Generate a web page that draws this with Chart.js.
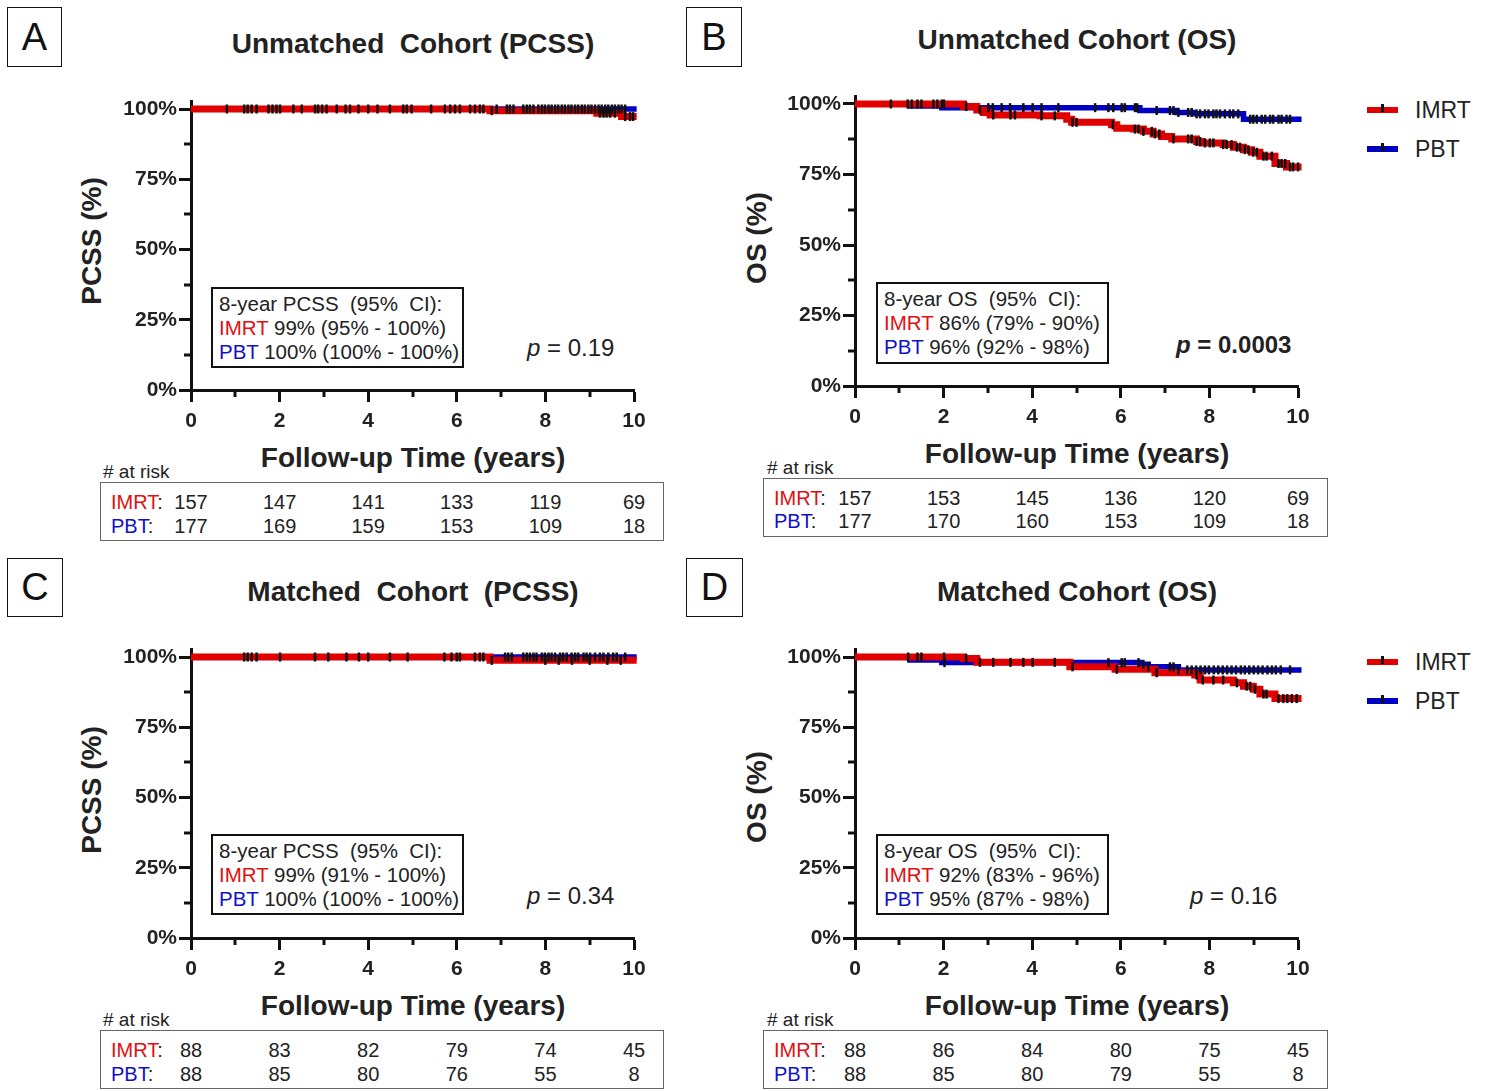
<!DOCTYPE html>
<html>
<head>
<meta charset="utf-8">
<script src="https://cdn.jsdelivr.net/npm/chart.js@4.4.1/dist/chart.umd.min.js"></script>
<style>
  body { margin: 0; background: #fff; }
  #page { position: relative; width: 1487px; height: 1091px; overflow: hidden;
          font-family: "Liberation Sans", Arial, Helvetica, sans-serif; color: #222; }
  .abs { position: absolute; white-space: pre; line-height: 1; }
  .letter { position: absolute; border: 1.5px solid #111; box-sizing: border-box; font-size: 38px;
            display: flex; align-items: center; justify-content: center; color: #111; }
  .ci { position: absolute; border: 2.5px solid #111; box-sizing: border-box; font-size: 20.5px;
        line-height: 24px; padding: 3px 0 0 6px; white-space: pre; }
  .risk { position: absolute; border: 1.5px solid #666; box-sizing: border-box; }
  canvas { position: absolute; }
</style>
</head>
<body>
<div id="page"></div>
<script>
// shared axis values
const xTicks = [0, 2, 4, 6, 8, 10];
const xMinor = [1, 3, 5, 7, 9];
const yTicks = [0, 25, 50, 75, 100];
const yMinor = [12.5, 37.5, 62.5, 87.5];
const riskTimes = [0, 2, 4, 6, 8, 10];

// A - unmatched PCSS
const imrtTimesA = [0, 6.75, 9.16, 9.72, 10.06];
const imrtSurvA = [100, 99.4, 98.5, 97.3, 97.3];
const pbtTimesA = [0, 10.06];
const pbtSurvA = [100, 100];
const imrtCensorA = [0.81, 1.20, 1.28, 1.37, 1.48, 1.75, 1.84, 1.93, 2.01, 2.31, 2.50, 2.80, 2.87, 2.96, 3.06,
  3.29, 3.49, 3.59, 3.78, 4.00, 4.21, 4.49, 4.79, 4.87, 4.98, 5.42, 5.73, 5.85, 5.96, 6.07, 6.30, 6.41, 6.52,
  6.60, 6.79, 9.23, 9.31, 9.38, 9.46, 9.57, 9.80, 9.91, 9.98];
const pbtCensorA = [6.90, 7.13, 7.20, 7.28, 7.50, 7.58, 7.65, 7.73, 7.84, 7.92, 7.99, 8.07, 8.14, 8.22, 8.29,
  8.37, 8.44, 8.52, 8.59, 8.67, 8.74, 8.82, 8.89, 8.97, 9.04, 9.12, 9.20, 9.27, 9.35, 9.42, 9.50, 9.57, 9.65,
  9.72, 9.80];
const imrtRiskA = [157, 147, 141, 133, 119, 69];
const pbtRiskA = [177, 169, 159, 153, 109, 18];

// B - unmatched OS
const imrtTimesB = [0, 2.45, 2.75, 2.9, 3.05, 4.18, 4.78, 4.89, 5.79, 5.91, 6.28, 6.51, 6.73, 6.92, 7.15,
  7.71, 7.83, 8.31, 8.54, 8.77, 8.95, 9.14, 9.48, 9.74, 10.08];
const imrtSurvB = [100, 99.1, 97.9, 97.0, 96.1, 95.8, 94.6, 93.5, 92.6, 91.4, 91.1, 90.3, 89.4, 88.5, 87.6,
  86.7, 86.2, 85.6, 84.7, 83.8, 82.9, 81.5, 78.9, 77.7, 77.7];
const pbtTimesB = [0, 1.24, 1.96, 6.43, 7.26, 7.64, 8.77, 10.08];
const pbtSurvB = [100, 99.3, 98.7, 97.7, 97.0, 96.5, 94.6, 94.6];
const imrtCensorB = [0.81, 1.19, 1.28, 1.41, 1.50, 1.77, 1.86, 1.96, 2.01, 2.51, 2.82, 3.12, 3.51, 3.61, 4.21,
  4.51, 4.91, 5.00, 5.82, 6.32, 6.40, 6.51, 6.70, 6.77, 6.87, 7.19, 7.52, 7.60, 7.71, 7.79, 7.90, 8.01, 8.09,
  8.31, 8.39, 8.50, 8.62, 8.69, 8.80, 8.88, 8.99, 9.07, 9.22, 9.29, 9.41, 9.56, 9.63, 9.71, 9.82, 9.89, 10.0];
const pbtCensorB = [3.01, 3.11, 3.31, 3.50, 3.80, 4.01, 4.21, 4.59, 5.42, 5.72, 5.83, 6.02, 6.09, 6.32, 6.37,
  6.81, 7.11, 7.19, 7.30, 7.52, 7.60, 7.71, 7.79, 7.90, 7.98, 8.09, 8.16, 8.24, 8.35, 8.46, 8.54, 8.65, 8.92,
  8.99, 9.07, 9.18, 9.26, 9.37, 9.44, 9.56, 9.63, 9.74, 9.82];
const imrtRiskB = [157, 153, 145, 136, 120, 69];
const pbtRiskB = [177, 170, 160, 153, 109, 18];

// C - matched PCSS
const imrtTimesC = [0, 6.75, 10.06];
const imrtSurvC = [100, 98.8, 98.8];
const pbtTimesC = [0, 10.06];
const pbtSurvC = [100, 100];
const imrtCensorC = [1.20, 1.28, 1.37, 1.48, 2.01, 2.80, 3.10, 3.51, 3.79, 4.00, 4.49, 4.89, 5.72, 5.88, 6.00,
  6.07, 6.41, 6.52, 6.60, 6.79, 8.0, 8.3, 8.6, 9.0, 9.4, 9.7];
const pbtCensorC = [7.09, 7.16, 7.24, 7.50, 7.58, 7.65, 7.73, 7.80, 7.92, 7.99, 8.07, 8.14, 8.22, 8.33, 8.40,
  8.48, 8.59, 8.67, 8.74, 8.86, 8.93, 9.01, 9.12, 9.23, 9.31, 9.42, 9.53, 9.61, 9.80];
const imrtRiskC = [88, 83, 82, 79, 74, 45];
const pbtRiskC = [88, 85, 80, 76, 55, 8];

// D - matched OS
const imrtTimesD = [0, 2.45, 2.75, 4.85, 5.87, 6.77, 7.67, 7.79, 8.54, 8.77, 8.99, 9.14, 9.48, 10.08];
const imrtSurvD = [100, 99.5, 98.1, 96.5, 95.6, 94.4, 93.6, 91.8, 90.8, 89.6, 88.5, 86.8, 85.2, 85.2];
const pbtTimesD = [0, 1.24, 1.96, 6.43, 6.62, 7.3, 10.08];
const pbtSurvD = [100, 98.9, 98.0, 97.4, 96.5, 95.4, 95.4];
const imrtCensorD = [1.20, 1.41, 1.50, 2.01, 2.51, 2.82, 3.12, 3.51, 3.80, 4.01, 4.51, 4.91, 5.91, 6.81, 7.71,
  7.85, 8.09, 8.31, 8.62, 8.84, 8.92, 9.03, 9.22, 9.29, 9.56, 9.67, 9.76, 9.86, 9.97];
const pbtCensorD = [2.02, 5.72, 6.02, 6.09, 6.40, 6.51, 6.62, 7.11, 7.19, 7.30, 7.50, 7.60, 7.70, 7.80, 7.90,
  7.99, 8.10, 8.20, 8.30, 8.40, 8.50, 8.60, 8.71, 8.80, 8.90, 9.0, 9.10, 9.20, 9.31, 9.41, 9.50, 9.61, 9.82];
const imrtRiskD = [88, 86, 84, 80, 75, 45];
const pbtRiskD = [88, 85, 80, 79, 55, 8];

const RED = '#e10000';
const BLUE = '#0000c4';
const TXT_RED = '#e01010';
const TXT_BLUE = '#1010c8';
const FONT = '"Liberation Sans", Arial, Helvetica, sans-serif';
const Y_MAX = 102.5;

const panels = [
  {
    letter: 'A', box: [7, 7, 55, 60],
    title: 'Unmatched  Cohort (PCSS)', titleXY: [413, 44],
    yTitle: 'PCSS (%)', yTitleXY: [92, 241], xTitleXY: [413, 458],
    left: 191, right: 634, y100: 109, y0: 390,
    imrt: [imrtTimesA, imrtSurvA, imrtCensorA], pbt: [pbtTimesA, pbtSurvA, pbtCensorA],
    ci: ['8-year PCSS  (95%  CI):', ' 99% (95% - 100%)', ' 100% (100% - 100%)'], ciBox: [211, 287, 253, 81],
    p: '0.19', pBold: false, pXY: [527, 348],
    riskLabelXY: [103, 471], riskBox: [100, 482, 564, 59], riskRows: [502, 526],
    risk: [imrtRiskA, pbtRiskA]
  },
  {
    letter: 'B', box: [686, 7, 56, 60],
    title: 'Unmatched Cohort (OS)', titleXY: [1077, 40],
    yTitle: 'OS (%)', yTitleXY: [757, 238], xTitleXY: [1077, 454],
    left: 855, right: 1298, y100: 104, y0: 386,
    imrt: [imrtTimesB, imrtSurvB, imrtCensorB], pbt: [pbtTimesB, pbtSurvB, pbtCensorB],
    ci: ['8-year OS  (95%  CI):', ' 86% (79% - 90%)', ' 96% (92% - 98%)'], ciBox: [876, 282, 233, 82],
    p: '0.0003', pBold: true, pXY: [1176, 345],
    legend: [110, 149],
    riskLabelXY: [767, 467], riskBox: [763, 478, 565, 59], riskRows: [498, 521],
    risk: [imrtRiskB, pbtRiskB]
  },
  {
    letter: 'C', box: [7, 558, 56, 59],
    title: 'Matched  Cohort  (PCSS)', titleXY: [413, 592],
    yTitle: 'PCSS (%)', yTitleXY: [92, 790], xTitleXY: [413, 1006],
    left: 191, right: 634, y100: 657, y0: 938,
    imrt: [imrtTimesC, imrtSurvC, imrtCensorC], pbt: [pbtTimesC, pbtSurvC, pbtCensorC],
    ci: ['8-year PCSS  (95%  CI):', ' 99% (91% - 100%)', ' 100% (100% - 100%)'], ciBox: [211, 834, 253, 81],
    p: '0.34', pBold: false, pXY: [527, 896],
    riskLabelXY: [103, 1019], riskBox: [100, 1030, 564, 59], riskRows: [1050, 1074],
    risk: [imrtRiskC, pbtRiskC]
  },
  {
    letter: 'D', box: [686, 558, 57, 59],
    title: 'Matched Cohort (OS)', titleXY: [1077, 592],
    yTitle: 'OS (%)', yTitleXY: [757, 797], xTitleXY: [1077, 1006],
    left: 855, right: 1298, y100: 657, y0: 938,
    imrt: [imrtTimesD, imrtSurvD, imrtCensorD], pbt: [pbtTimesD, pbtSurvD, pbtCensorD],
    ci: ['8-year OS  (95%  CI):', ' 92% (83% - 96%)', ' 95% (87% - 98%)'], ciBox: [876, 834, 233, 81],
    p: '0.16', pBold: false, pXY: [1190, 896],
    legend: [662, 701],
    riskLabelXY: [767, 1019], riskBox: [763, 1030, 565, 59], riskRows: [1050, 1074],
    risk: [imrtRiskD, pbtRiskD]
  }
];

const page = document.getElementById('page');

function put(html, x, y, css, anchor) {
  const el = document.createElement('div');
  el.className = 'abs';
  el.innerHTML = html;
  el.style.left = x + 'px';
  el.style.top = y + 'px';
  el.style.cssText += css || '';
  if (anchor === 'c') el.style.transform = 'translate(-50%, -50%)';
  else if (anchor === 'l') el.style.transform = 'translate(0, -50%)';
  page.appendChild(el);
  return el;
}

function survAt(times, surv, t) {
  let s = surv[0];
  for (let i = 0; i < times.length; i++) {
    if (times[i] <= t) s = surv[i];
  }
  return s;
}

// shorter ticks at odd years / 12.5% steps
const minorTicks = {
  id: 'minorTicks',
  afterDraw(chart) {
    const { ctx, chartArea, scales } = chart;
    ctx.save();
    ctx.strokeStyle = '#111';
    ctx.lineWidth = 3;
    yMinor.forEach(v => {
      const py = Math.round(scales.y.getPixelForValue(v));
      ctx.beginPath();
      ctx.moveTo(chartArea.left - 7, py);
      ctx.lineTo(chartArea.left, py);
      ctx.stroke();
    });
    xMinor.forEach(v => {
      const px = Math.round(scales.x.getPixelForValue(v));
      ctx.beginPath();
      ctx.moveTo(px, chartArea.bottom);
      ctx.lineTo(px, chartArea.bottom + 7);
      ctx.stroke();
    });
    ctx.restore();
  }
};

function stepData(times, surv) {
  return times.map((t, i) => ({ x: t, y: surv[i] }));
}

function censorData(times, surv, cens) {
  return cens.map(t => ({ x: t, y: survAt(times, surv, t) }));
}

function legendItem(color, label, y) {
  const sw = document.createElement('div');
  sw.style.cssText = `position:absolute;left:1367px;top:${y - 3}px;width:31px;height:6px;background:${color};`;
  page.appendChild(sw);
  const tk = document.createElement('div');
  tk.style.cssText = `position:absolute;left:1381px;top:${y - 6}px;width:2.5px;height:8px;background:#111;`;
  page.appendChild(tk);
  put(label, 1415, y, 'font-size:23px;color:#222;', 'l');
}

function buildPanel(p) {
  // letter box
  const lb = document.createElement('div');
  lb.className = 'letter';
  lb.textContent = p.letter;
  lb.style.cssText += `left:${p.box[0]}px;top:${p.box[1]}px;width:${p.box[2]}px;height:${p.box[3]}px;`;
  page.appendChild(lb);

  put(p.title, p.titleXY[0], p.titleXY[1], 'font-weight:bold;font-size:28px;', 'c');
  const yt = put(p.yTitle, p.yTitleXY[0], p.yTitleXY[1], 'font-weight:bold;font-size:28px;');
  yt.style.transform = 'translate(-50%, -50%) rotate(-90deg)';
  put('Follow-up Time (years)', p.xTitleXY[0], p.xTitleXY[1], 'font-weight:bold;font-size:28px;', 'c');

  // CI box
  const ci = document.createElement('div');
  ci.className = 'ci';
  ci.style.left = p.ciBox[0] + 'px';
  ci.style.top = p.ciBox[1] + 'px';
  ci.style.width = p.ciBox[2] + 'px';
  ci.style.height = p.ciBox[3] + 'px';
  ci.innerHTML = p.ci[0] + '\n<span style="color:' + TXT_RED + '">IMRT</span>' + p.ci[1] +
    '\n<span style="color:' + TXT_BLUE + '">PBT</span>' + p.ci[2];
  page.appendChild(ci);

  put('<i>p</i> = ' + p.p, p.pXY[0], p.pXY[1],
    'font-size:24px;' + (p.pBold ? 'font-weight:bold;' : ''), 'l');

  if (p.legend) {
    legendItem(RED, 'IMRT', p.legend[0]);
    legendItem(BLUE, 'PBT', p.legend[1]);
  }

  // chart canvas
  const cLeft = p.left - 96;
  const cTop = p.y100 - 36;
  const cW = 570;
  const cH = p.y0 + 60 - cTop;
  const areaTop = p.y0 - (p.y0 - p.y100) * Y_MAX / 100;
  const cv = document.createElement('canvas');
  cv.width = cW;
  cv.height = cH;
  cv.style.left = cLeft + 'px';
  cv.style.top = cTop + 'px';
  page.appendChild(cv);

  const [it, is, ic] = p.imrt;
  const [pt, ps, pc] = p.pbt;

  const tickFont = { family: FONT, size: 21, weight: 'bold' };
  const chart = new Chart(cv, {
    type: 'line',
    data: {
      datasets: [
        { data: censorData(it, is, ic), showLine: false, pointStyle: 'line', rotation: 90, pointRadius: 4.5,
          pointBorderWidth: 2.5, pointBorderColor: '#111', borderColor: '#111', order: 0, clip: false },
        { data: censorData(pt, ps, pc), showLine: false, pointStyle: 'line', rotation: 90, pointRadius: 4.5,
          pointBorderWidth: 2.5, pointBorderColor: '#111', borderColor: '#111', order: 0, clip: false },
        // 'before': hold the previous value until the event time, then drop
        { label: 'IMRT', data: stepData(it, is), stepped: 'before', borderColor: RED, borderWidth: 7,
          pointRadius: 0, borderCapStyle: 'butt', borderJoinStyle: 'miter', order: 1, clip: false },
        { label: 'PBT', data: stepData(pt, ps), stepped: 'before', borderColor: BLUE, borderWidth: 5.5,
          pointRadius: 0, borderCapStyle: 'butt', borderJoinStyle: 'miter', order: 2, clip: false }
      ]
    },
    options: {
      responsive: false,
      animation: false,
      events: [],
      layout: { padding: { top: areaTop - cTop, right: cLeft + cW - p.right, left: 0, bottom: 0 } },
      plugins: { legend: { display: false }, tooltip: { enabled: false } },
      scales: {
        x: {
          type: 'linear', min: 0, max: 10,
          afterBuildTicks: s => { s.ticks = xTicks.map(v => ({ value: v })); },
          afterFit: s => { s.height = 60; },
          grid: { drawOnChartArea: false, tickLength: 12, tickWidth: 3, tickColor: '#111' },
          border: { color: '#111', width: 3 },
          ticks: { color: '#222', font: tickFont, padding: 7, maxRotation: 0, autoSkip: false }
        },
        y: {
          type: 'linear', min: 0, max: Y_MAX,
          afterBuildTicks: s => { s.ticks = yTicks.map(v => ({ value: v })); },
          afterFit: s => { s.width = 96; },
          grid: { drawOnChartArea: false, tickLength: 12, tickWidth: 3, tickColor: '#111' },
          border: { color: '#111', width: 3 },
          ticks: { color: '#222', font: tickFont, padding: 2, callback: v => v + '%' }
        }
      }
    },
    plugins: [minorTicks]
  });

  // number at risk table
  put('# at risk', p.riskLabelXY[0], p.riskLabelXY[1], 'font-size:19px;', 'l');
  const rb = document.createElement('div');
  rb.className = 'risk';
  rb.style.cssText += `left:${p.riskBox[0]}px;top:${p.riskBox[1]}px;width:${p.riskBox[2]}px;height:${p.riskBox[3]}px;`;
  page.appendChild(rb);
  const labX = p.riskBox[0] + 11;
  put('<span style="color:' + TXT_RED + '">IMRT</span>:', labX, p.riskRows[0], 'font-size:20px;', 'l');
  put('<span style="color:' + TXT_BLUE + '">PBT</span>:', labX, p.riskRows[1], 'font-size:20px;', 'l');
  riskTimes.forEach((t, i) => {
    const px = cLeft + chart.scales.x.getPixelForValue(t);
    put(String(p.risk[0][i]), px, p.riskRows[0], 'font-size:20px;', 'c');
    put(String(p.risk[1][i]), px, p.riskRows[1], 'font-size:20px;', 'c');
  });
}

panels.forEach(buildPanel);
</script>
</body>
</html>
